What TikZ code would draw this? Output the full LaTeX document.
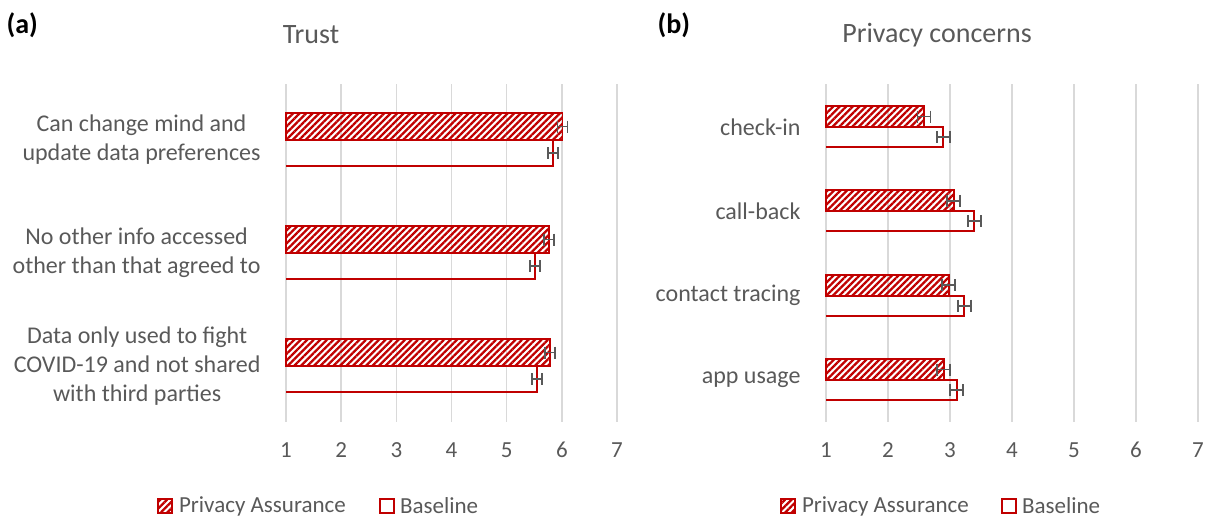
\documentclass[tikz,border=0pt]{standalone}
\usepackage{fontspec}
\setmainfont{Carlito}
\usetikzlibrary{patterns.meta, positioning}

\definecolor{barred}{HTML}{C00000}
\definecolor{labelgray}{HTML}{595959}
\definecolor{gridgray}{HTML}{D9D9D9}

\tikzset{
  grid line/.style={gridgray, line width=1.4pt},
  hatch/.style={pattern={Lines[angle=45, distance=4.6pt, line width=2.3pt]}, pattern color=barred},
  assured bar/.style={draw=barred, line width=1.7pt, hatch},
  baseline bar/.style={draw=barred, line width=1.7pt},
  err bar/.style={labelgray, line width=1.7pt},
  tick label/.style={text=labelgray, font=\fontsize{23}{26}\selectfont},
  cat label/.style={text=labelgray, align=center, anchor=east, font=\fontsize{24}{29}\selectfont},
  chart title/.style={text=labelgray, font=\fontsize{28}{32}\selectfont},
  panel tag/.style={anchor=west, font=\fontsize{28}{32}\selectfont\bfseries},
  key box/.style={minimum size=14pt, inner sep=0pt, line width=1.7pt},
  key text/.style={text=labelgray, anchor=west, inner sep=1pt, font=\fontsize{23}{26}\selectfont},
}

\begin{document}
\begin{tikzpicture}[x=1pt, y=-1pt]
\useasboundingbox (0,0) rectangle (1209,517);

% (a) Trust
\node[panel tag] (taga) at (3,25) {(a)};
\node[chart title] (trust) at (311,35) {Trust};

\foreach \v in {1,...,7} {
  \pgfmathsetmacro{\gx}{286+55.17*(\v-1)}
  \draw[grid line] (\gx,84) -- (\gx,422);
  \node[tick label] (ta\v) at (\gx,450) {\v};
}

\foreach \c/\a/\b/\txt [count=\i] in {
    140/6.01/5.84/{Can change mind and\\update data preferences},
    253/5.77/5.51/{No other info accessed\\other than that agreed to},
    366/5.78/5.55/{Data only used to fight\\COVID-19 and not shared\\with third parties}} {
  \pgfmathsetmacro{\xa}{286+55.17*(\a-1)}
  \pgfmathsetmacro{\xb}{286+55.17*(\b-1)}
  \draw[assured bar] (286,\c-27) rectangle (\xa,\c);
  \draw[baseline bar] (286,\c) -- (\xb,\c) -- (\xb,\c+26) -- (286,\c+26);
  \draw[err bar] (\xa-5,\c-13.5) -- (\xa+5,\c-13.5)
    (\xa-5,\c-19.5) -- (\xa-5,\c-7.5) (\xa+5,\c-19.5) -- (\xa+5,\c-7.5);
  \draw[err bar] (\xb-5,\c+13) -- (\xb+5,\c+13)
    (\xb-5,\c+7) -- (\xb-5,\c+19) (\xb+5,\c+7) -- (\xb+5,\c+19);
  \node[cat label] (qa\i) at (264,\c) {\txt};
}

% legend (a)
\node[key box, draw=barred, hatch] (keyaa) at (165,506) {};
\node[key text, right=5pt of keyaa] (keyaatxt) {Privacy Assurance};
\node[key box, draw=barred] (keyab) at (387,506) {};
\node[key text, right=4pt of keyab] (keyabtxt) {Baseline};

% (b) Privacy concerns
\node[panel tag] (tagb) at (654,25) {(b)};
\node[chart title] (privacy) at (937,35) {Privacy concerns};

\foreach \v in {1,...,7} {
  \pgfmathsetmacro{\gx}{826+62*(\v-1)}
  \draw[grid line] (\gx,84) -- (\gx,422);
  \node[tick label] (tb\v) at (\gx,450) {\v};
}

\foreach \c/\a/\b/\txt [count=\i] in {
    127/2.58/2.89/check-in,
    211.3/3.06/3.39/call-back,
    295.7/2.98/3.23/contact tracing,
    380/2.90/3.11/app usage} {
  \pgfmathsetmacro{\xa}{826+62*(\a-1)}
  \pgfmathsetmacro{\xb}{826+62*(\b-1)}
  \draw[assured bar] (826,\c-21) rectangle (\xa,\c);
  \draw[baseline bar] (826,\c) -- (\xb,\c) -- (\xb,\c+20) -- (826,\c+20);
  \draw[err bar] (\xa-6.5,\c-10.5) -- (\xa+6.5,\c-10.5)
    (\xa-6.5,\c-16.5) -- (\xa-6.5,\c-4.5) (\xa+6.5,\c-16.5) -- (\xa+6.5,\c-4.5);
  \draw[err bar] (\xb-6.5,\c+10) -- (\xb+6.5,\c+10)
    (\xb-6.5,\c+4) -- (\xb-6.5,\c+16) (\xb+6.5,\c+4) -- (\xb+6.5,\c+16);
  \node[cat label] (qb\i) at (804,\c) {\txt};
}

% legend (b)
\node[key box, draw=barred, hatch] (keyba) at (788,506) {};
\node[key text, right=5pt of keyba] (keybatxt) {Privacy Assurance};
\node[key box, draw=barred] (keybb) at (1009,506) {};
\node[key text, right=4pt of keybb] (keybbtxt) {Baseline};

\end{tikzpicture}
\end{document}
